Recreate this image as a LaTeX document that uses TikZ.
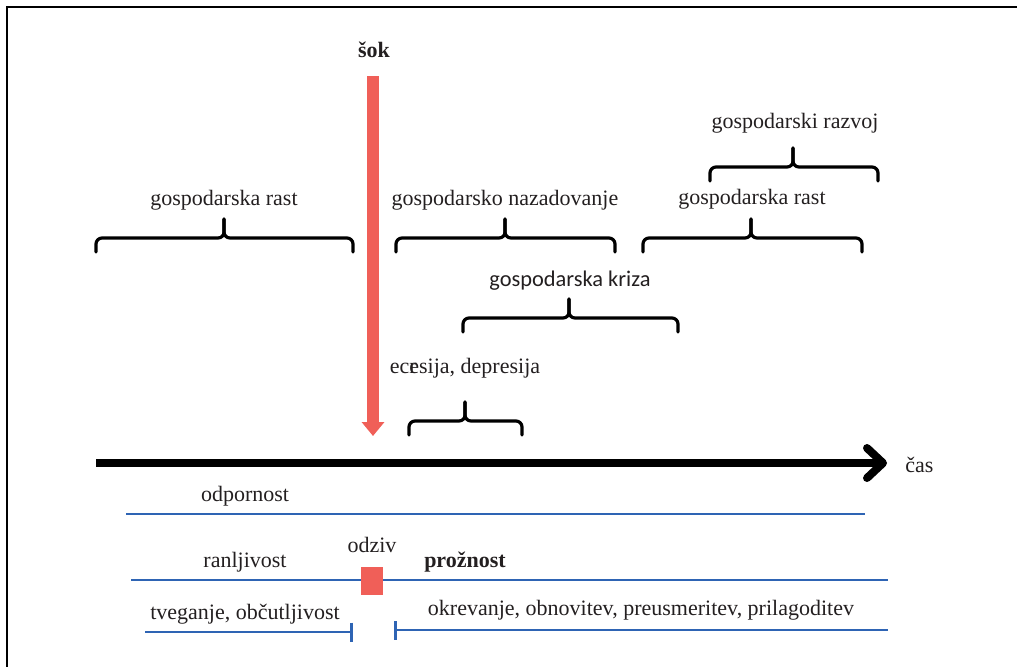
\documentclass[tikz,border=0pt]{standalone}
\usepackage{fontspec}
\setmainfont{Liberation Serif}
\newfontfamily\krizafont{Carlito}
\usetikzlibrary{arrows.meta}
\definecolor{sokred}{RGB}{240,95,88}
\definecolor{lineblue}{RGB}{46,100,180}
\definecolor{txt}{RGB}{35,31,32}

\begin{document}
\begin{tikzpicture}[x=0.5pt,y=-0.5pt,
    lbl/.style={text=txt,inner sep=0pt,font=\fontsize{11}{13}\selectfont},
    boldlbl/.style={lbl,font=\fontsize{11}{13}\selectfont\bfseries},
    brk/.style={line width=1.6pt,line cap=round,rounded corners=3pt},
    blueline/.style={draw=lineblue,line width=1.4pt}]
      \useasboundingbox (0,0) rectangle (1017,666);
      \draw[line width=1pt] (6.5,700) -- (6.5,7) -- (1100,7);
      % labels above the time axis
      \node[boldlbl] (Sok) at (374,50) {šok};
      \node[lbl] (GrL) at (224,200) {gospodarska rast};
      \node[lbl] (Naz) at (505,200) {gospodarsko nazadovanje};
      \node[lbl] (GrR) at (752,199) {gospodarska rast};
      \node[lbl] (Raz) at (795,123) {gospodarski razvoj};
      \node[lbl,font=\krizafont\fontsize{11.2}{13}\selectfont] (Kri) at (570,281) {gospodarska kriza};
      \node[lbl] (Rec) at (465,368) {ec\rlap{r}esija, depresija};
      \node[lbl,anchor=west] (Cas) at (905,465) {čas};
      % brackets
      \foreach \l/\m/\r/\b in {96/224/353/252, 396/505/615/252, 643/751/862/252,
                              710/793/878/181, 463/569/678/332, 409/465/522/435}
      {
        \draw[brk] (\l,\b) -- (\l,\b-14) -- (\m,\b-14) -- (\m,\b-33);
        \draw[brk] (\r,\b) -- (\r,\b-14) -- (\m,\b-14) -- (\m,\b-33);
      }
      % shock and time axis
      \coordinate (SokTop) at (373,76);
      \coordinate (SokTip) at (373,436);
      \coordinate (T0) at (96,463);
      \coordinate (T1) at (887,463);
      \draw[sokred,line width=6pt,-{Triangle[length=7pt,width=11pt]}] (SokTop) -- (SokTip);
      \draw[line width=4pt,-{Straight Barb[length=8pt,width=15pt,round]}] (T0) -- (T1);
      % labels below the time axis
      \node[lbl] (Odp) at (245,496) {odpornost};
      \node[lbl] (Ran) at (245,562) {ranljivost};
      \node[lbl] (Odz) at (372,545) {odziv};
      \node[boldlbl] (Pro) at (465,562) {prožnost};
      \node[lbl] (Tve) at (245,614) {tveganje, občutljivost};
      \node[lbl] (Okr) at (641,610) {okrevanje, obnovitev, preusmeritev, prilagoditev};
      \coordinate (OdpL) at (126,514);
      \coordinate (OdpR) at (865,514);
      \coordinate (RanL) at (131,580);
      \coordinate (RanR) at (888,580);
      \coordinate (TveL) at (145,632);
      \coordinate (TveR) at (353,632);
      \coordinate (OkrL) at (394,630);
      \coordinate (OkrR) at (888,630);
      \draw[blueline] (OdpL) -- (OdpR);
      \draw[blueline] (RanL) -- (RanR);
      \draw[blueline,-{Bar[width=9.5pt]}] (TveL) -- (TveR);
      \draw[blueline,{Bar[width=9.5pt]}-] (OkrL) -- (OkrR);
      \node[fill=sokred,inner sep=0pt,minimum width=11pt,minimum height=14pt] (Odziv) at (372,581) {};
    \end{tikzpicture}
\end{document}
